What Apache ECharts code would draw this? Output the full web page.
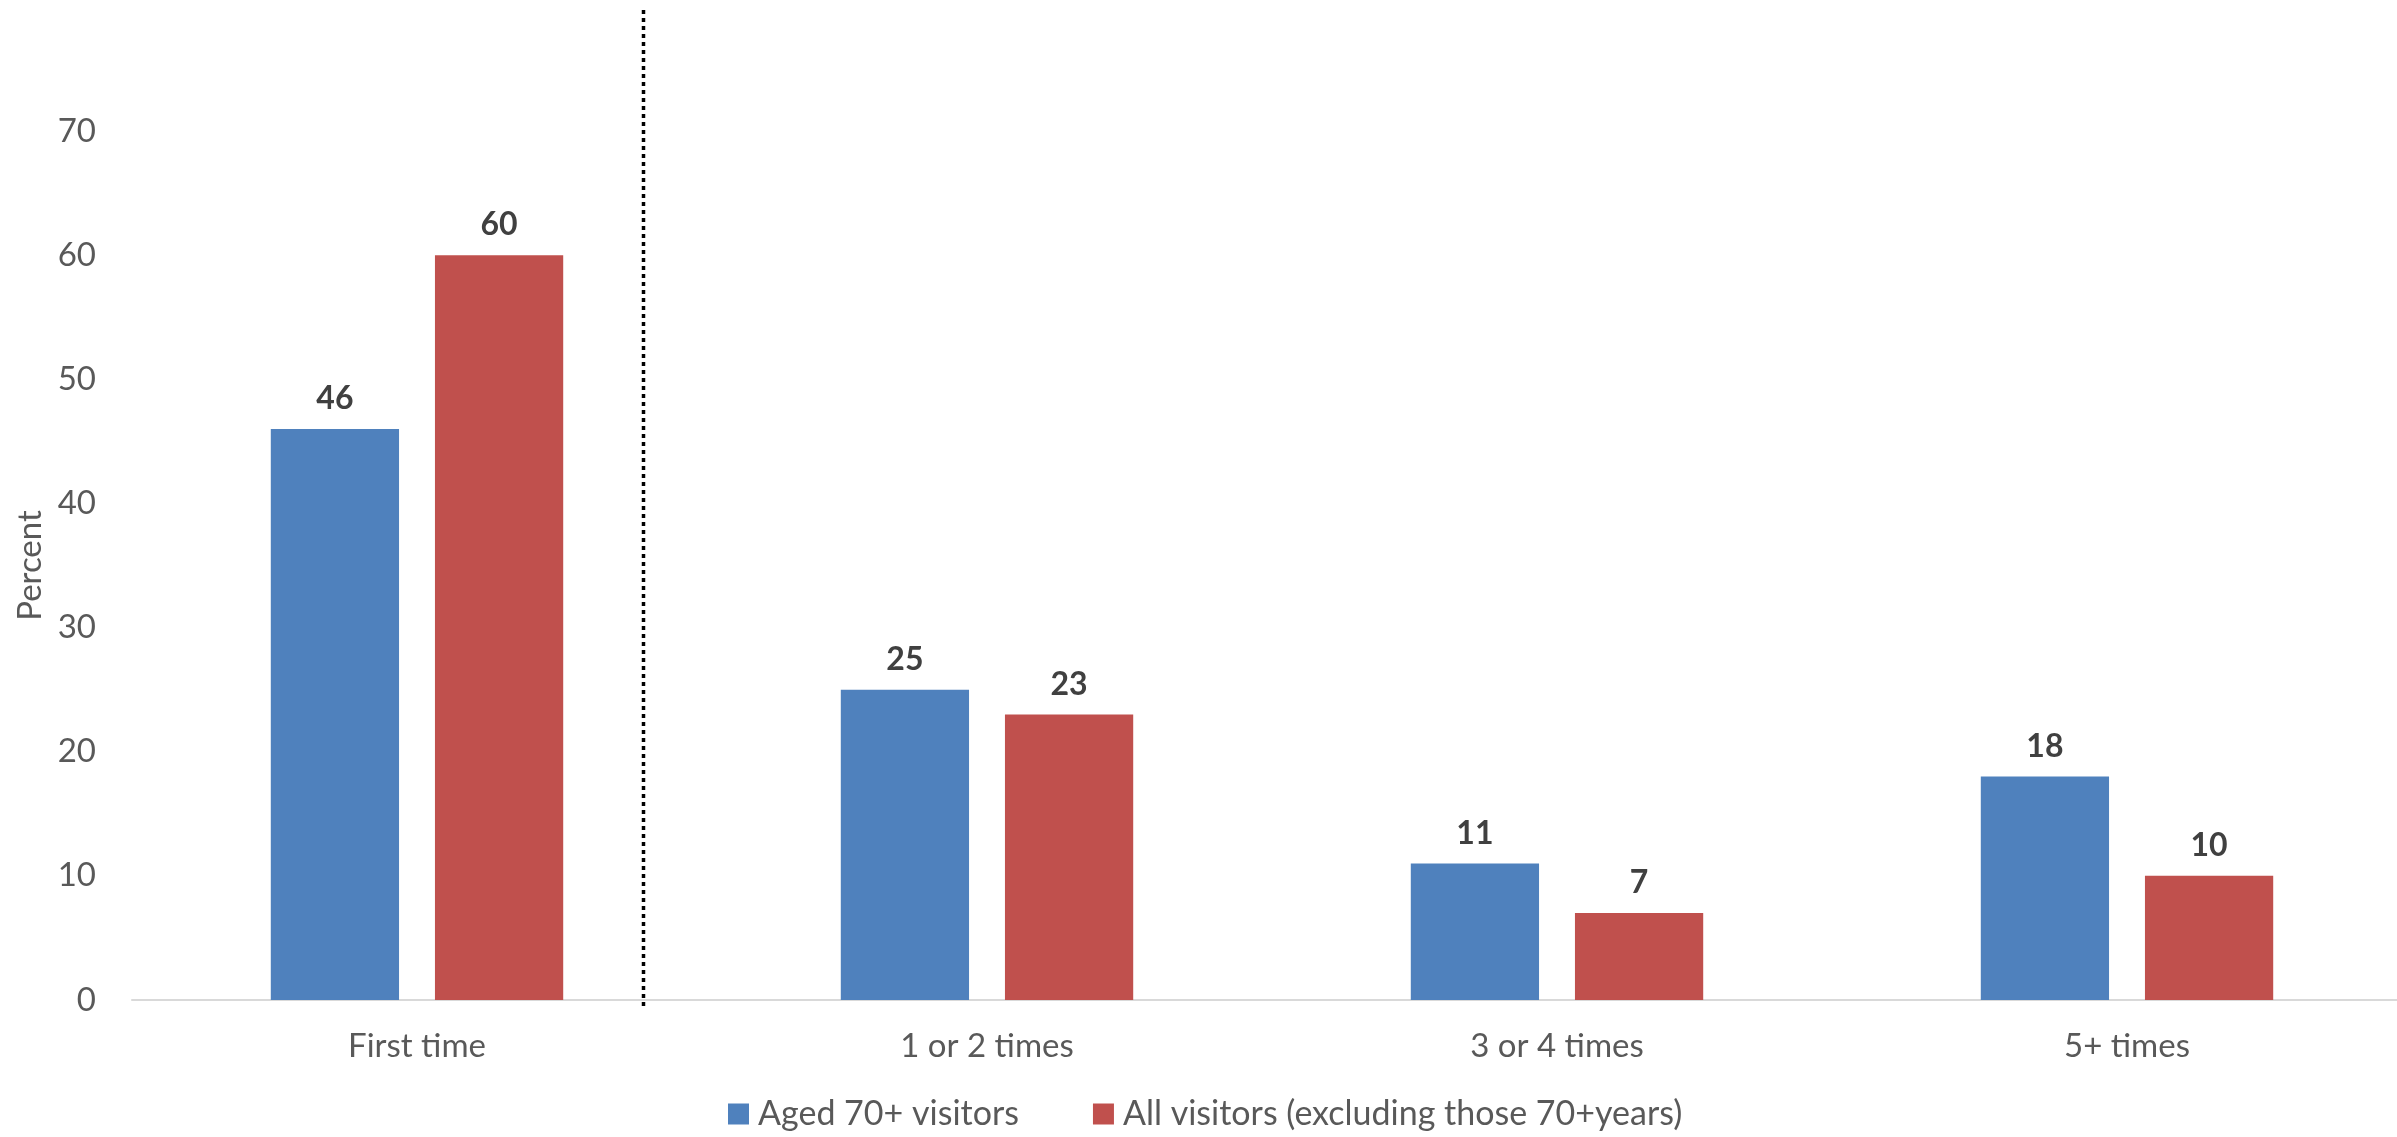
<!DOCTYPE html>
<html>
<head>
<meta charset="utf-8">
<style>
  html, body { margin: 0; padding: 0; background: #ffffff; }
  #chart { width: 2397px; height: 1137px; }
</style>
<script src="https://cdn.jsdelivr.net/npm/echarts@6/dist/echarts.min.js"></script>
</head>
<body>
<div id="chart"></div>
<script>
// Number of visits, by visitor group (percent)
const categories = ['First time', '1 or 2 times', '3 or 4 times', '5+ times'];
const seriesNames = ['Aged 70+ visitors', 'All visitors (excluding those 70+years)'];
const aged70Values = [46, 25, 11, 18];
const allVisitorsValues = [60, 23, 7, 10];
const yTicks = { min: 0, max: 70, step: 10 };

const FONT = 'Lato, "Open Sans", sans-serif';
const labelStyle = {
  show: true,
  position: 'top',
  distance: 14,
  fontFamily: FONT,
  fontSize: 32,
  fontWeight: 'bold',
  color: '#404040'
};

const chart = echarts.init(document.getElementById('chart'), null, { renderer: 'canvas' });

chart.setOption({
  animation: false,
  backgroundColor: '#ffffff',
  textStyle: { fontFamily: FONT },
  grid: {
    left: 132,
    top: 131,
    width: 2280,
    bottom: 137,
    containLabel: false,
    outerBoundsMode: 'none'
  },
  legend: {
    data: seriesNames,
    left: 728,
    top: 1097,
    padding: 0,
    itemWidth: 21,
    itemHeight: 21,
    itemGap: 74,
    icon: 'rect',
    textStyle: { fontFamily: FONT, fontSize: 34, color: '#595959', padding: [0, 0, 0, 4] }
  },
  xAxis: {
    type: 'category',
    data: categories,
    axisTick: { show: false },
    axisLine: { lineStyle: { color: '#D9D9D9', width: 2 } },
    axisLabel: { margin: 30, fontFamily: FONT, fontSize: 33, color: '#595959' }
  },
  yAxis: {
    type: 'value',
    min: yTicks.min,
    max: yTicks.max,
    interval: yTicks.step,
    name: 'Percent',
    nameLocation: 'middle',
    nameRotate: 90,
    nameGap: 84,
    nameTextStyle: { fontFamily: FONT, fontSize: 33, color: '#595959' },
    axisLine: { show: false },
    axisTick: { show: false },
    splitLine: { show: false },
    axisLabel: { margin: 36, fontFamily: FONT, fontSize: 33, color: '#595959' }
  },
  series: [
    {
      name: seriesNames[0],
      type: 'bar',
      data: aged70Values,
      barWidth: '22.5%',
      barGap: '28%',
      itemStyle: { color: '#4F81BD' },
      label: labelStyle
    },
    {
      name: seriesNames[1],
      type: 'bar',
      data: allVisitorsValues,
      barWidth: '22.5%',
      barGap: '28%',
      itemStyle: { color: '#C0504D' },
      label: labelStyle
    }
  ],
  // Dotted divider separating first-time visitors from repeat visitors
  graphic: [
    {
      type: 'line',
      z: 100,
      shape: { x1: 643.5, y1: 10, x2: 643.5, y2: 1006 },
      style: { stroke: '#000000', lineWidth: 3.5, lineDash: [4, 4] }
    }
  ]
});
</script>
</body>
</html>
